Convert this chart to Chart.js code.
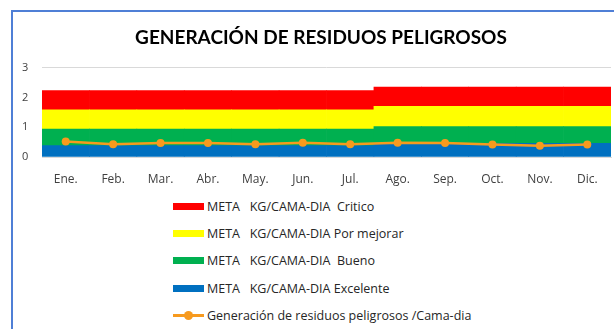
<!DOCTYPE html>
<html>
<head>
<meta charset="utf-8">
<script src="https://cdn.jsdelivr.net/npm/chart.js@4.4.0/dist/chart.umd.min.js"></script>
<style>
    html, body { margin: 0; padding: 0; background: #fff; overflow: hidden; }
    .page { position: relative; width: 614px; height: 329px; overflow: hidden; }
    .frame {
        position: absolute; left: 11px; top: 10px; width: 640px; height: 340px;
        border-top: 2px solid #4f7fd6; border-left: 2px solid #4f7fd6;
    }
    .chart-box { position: absolute; left: 11px; top: 0; width: 620px; height: 190px; }
    .legend {
        position: absolute; left: 173px; top: 193px;
        font-family: "Open Sans", Lato, sans-serif; font-size: 12.5px; color: #262626;
    }
    .legend-item { height: 27.2px; display: flex; align-items: center; white-space: pre; }
    .swatch { width: 31px; height: 7px; margin-right: 3px; position: relative; }
    .swatch.line { height: 3px; }
    .swatch.line::after {
        content: ''; position: absolute; left: 11px; top: -3px;
        width: 9px; height: 9px; border-radius: 50%; background: inherit;
    }
</style>
</head>
<body>
<div class="page">
    <div class="frame"></div>
    <div class="chart-box"><canvas id="residuosChart" width="620" height="190"></canvas></div>
    <div class="legend" id="legend"></div>
</div>
<script>
// Months
const meses = ['Ene.', 'Feb.', 'Mar.', 'Abr.', 'May.', 'Jun.', 'Jul.', 'Ago.', 'Sep.', 'Oct.', 'Nov.', 'Dic.'];

// Goal bands (kg/cama-dia), stacked from the bottom up
const metaExcelente = [0.38, 0.38, 0.38, 0.38, 0.38, 0.38, 0.38, 0.46, 0.46, 0.46, 0.46, 0.46];
const metaBueno = [0.56, 0.56, 0.56, 0.56, 0.56, 0.56, 0.56, 0.56, 0.56, 0.56, 0.56, 0.56];
const metaPorMejorar = [0.65, 0.65, 0.65, 0.65, 0.65, 0.65, 0.65, 0.68, 0.68, 0.68, 0.68, 0.68];
const metaCritico = [0.64, 0.64, 0.64, 0.64, 0.64, 0.64, 0.64, 0.65, 0.65, 0.65, 0.65, 0.65];

// Monthly generation of hazardous waste per bed-day
const generacion = [0.52, 0.43, 0.47, 0.47, 0.43, 0.48, 0.43, 0.48, 0.47, 0.42, 0.38, 0.42];

const yTicks = [0, 1, 2, 3];

const TITLE_FONT = 'Lato, "Open Sans", sans-serif';
const FONT = '"Open Sans", Lato, sans-serif';

function bandDataset(label, data, color) {
    return {
        type: 'bar',
        label: label,
        data: data,
        backgroundColor: color,
        borderWidth: 0,
        stack: 'metas',
        order: 1,
        categoryPercentage: 1,
        barPercentage: 1
    };
}

const datasets = [
    {
        type: 'line',
        label: 'Generación de residuos peligrosos /Cama-dia',
        data: generacion,
        borderColor: '#f79a1e',
        backgroundColor: '#f79a1e',
        borderWidth: 2.5,
        pointRadius: 4,
        pointBackgroundColor: '#f79a1e',
        pointBorderWidth: 0,
        tension: 0,
        stack: 'linea',
        order: 0
    },
    bandDataset('META   KG/CAMA-DIA Excelente', metaExcelente, '#0070c0'),
    bandDataset('META   KG/CAMA-DIA  Bueno', metaBueno, '#00b050'),
    bandDataset('META   KG/CAMA-DIA Por mejorar', metaPorMejorar, '#ffff00'),
    bandDataset('META   KG/CAMA-DIA  Critico', metaCritico, '#ff0000')
];

const chart = new Chart(document.getElementById('residuosChart'), {
    data: { labels: meses, datasets: datasets },
    options: {
        responsive: false,
        animation: false,
        // left padding keeps the title centred on the framed area
        layout: { padding: { left: 20, right: 20, top: 0, bottom: 0 } },
        plugins: {
            legend: { display: false },
            tooltip: { enabled: false },
            title: {
                display: true,
                text: 'GENERACIÓN DE RESIDUOS PELIGROSOS',
                color: '#000',
                font: { family: TITLE_FONT, size: 19, weight: 'bold' },
                padding: { top: 26, bottom: 19 }
            }
        },
        scales: {
            x: {
                stacked: true,
                grid: { display: false },
                border: { color: '#d9d9d9' },
                ticks: { color: '#404040', font: { family: FONT, size: 12 }, padding: 7, maxRotation: 0 },
                afterFit: scale => { scale.height = 33; }
            },
            y: {
                stacked: true,
                min: yTicks[0],
                max: yTicks[yTicks.length - 1],
                afterBuildTicks: scale => { scale.ticks = yTicks.map(v => ({ value: v })); },
                grid: { color: '#d9d9d9', drawTicks: false },
                border: { display: false },
                // mirrored labels are not clipped to the narrow axis box
                ticks: { color: '#404040', font: { family: FONT, size: 11 }, mirror: true, padding: -20 },
                afterFit: scale => { scale.width = 11; }
            }
        }
    }
});

// Vertical legend: bands from top to bottom, then the measured series
function buildLegend() {
    const legend = document.getElementById('legend');
    const bands = chart.data.datasets.filter(d => d.type === 'bar').reverse();
    const lines = chart.data.datasets.filter(d => d.type === 'line');
    bands.concat(lines).forEach(ds => {
        const item = document.createElement('div');
        item.className = 'legend-item';
        const swatch = document.createElement('span');
        swatch.className = ds.type === 'line' ? 'swatch line' : 'swatch';
        swatch.style.background = ds.backgroundColor;
        item.appendChild(swatch);
        item.appendChild(document.createTextNode(ds.label));
        legend.appendChild(item);
    });
}

buildLegend();
</script>
</body>
</html>
